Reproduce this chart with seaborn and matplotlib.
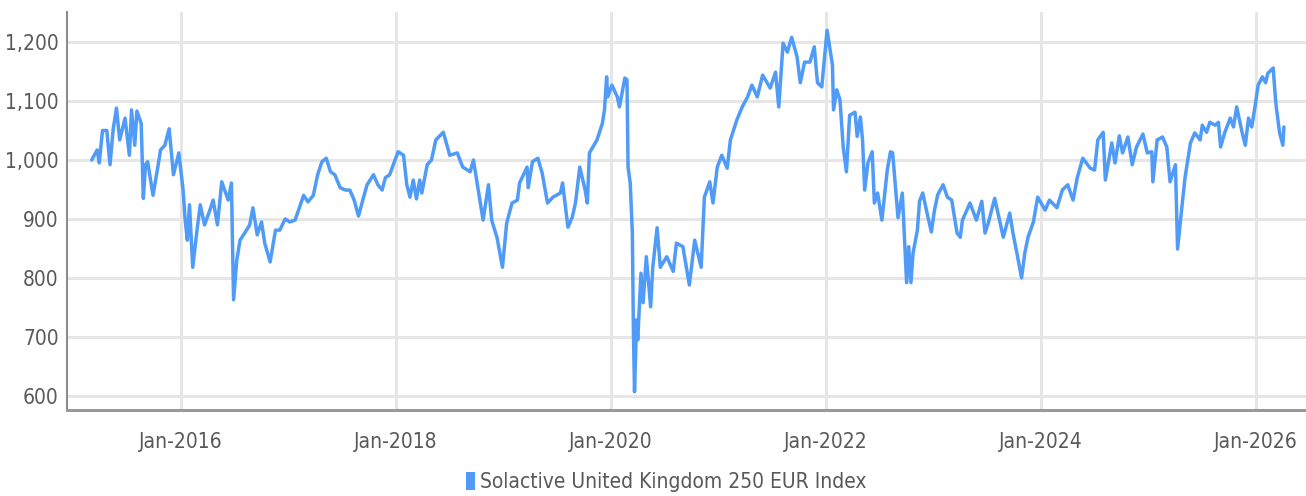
import numpy as np
import pandas as pd
import seaborn as sns
import matplotlib.pyplot as plt
import matplotlib.dates as mdates
from matplotlib.patches import Patch

# decimal years and index levels
years = [2015.17, 2015.22, 2015.24, 2015.27, 2015.31, 2015.34, 2015.37, 2015.40, 2015.43, 2015.48,
         2015.52, 2015.54, 2015.57, 2015.59, 2015.63, 2015.65, 2015.67, 2015.69, 2015.74, 2015.78,
         2015.81, 2015.85, 2015.89, 2015.93, 2015.98, 2016.02, 2016.04, 2016.06, 2016.08, 2016.11,
         2016.15, 2016.18, 2016.22, 2016.27, 2016.30, 2016.34, 2016.38, 2016.44, 2016.47, 2016.48,
         2016.49, 2016.52, 2016.55, 2016.60, 2016.64, 2016.67, 2016.71, 2016.75, 2016.78, 2016.83,
         2016.88, 2016.92, 2016.97, 2017.01, 2017.06, 2017.11, 2017.14, 2017.18, 2017.23, 2017.27,
         2017.31, 2017.35, 2017.39, 2017.43, 2017.48, 2017.53, 2017.57, 2017.61, 2017.65, 2017.69,
         2017.73, 2017.79, 2017.83, 2017.87, 2017.90, 2017.94, 2017.99, 2018.02, 2018.07, 2018.10,
         2018.13, 2018.16, 2018.19, 2018.22, 2018.24, 2018.29, 2018.33, 2018.37, 2018.44, 2018.50,
         2018.57, 2018.62, 2018.69, 2018.72, 2018.78, 2018.81, 2018.86, 2018.89, 2018.94, 2018.99,
         2019.03, 2019.08, 2019.13, 2019.15, 2019.22, 2019.23, 2019.27, 2019.32, 2019.36, 2019.41,
         2019.46, 2019.53, 2019.55, 2019.60, 2019.64, 2019.67, 2019.71, 2019.76, 2019.78, 2019.80,
         2019.87, 2019.92, 2019.94, 2019.96, 2019.97, 2020.01, 2020.06, 2020.08, 2020.13, 2020.15,
         2020.16, 2020.18, 2020.20, 2020.21, 2020.22, 2020.24, 2020.25, 2020.28, 2020.30, 2020.33,
         2020.37, 2020.39, 2020.43, 2020.46, 2020.52, 2020.58, 2020.61, 2020.67, 2020.73, 2020.78,
         2020.84, 2020.87, 2020.92, 2020.95, 2020.99, 2021.03, 2021.08, 2021.11, 2021.17, 2021.22,
         2021.27, 2021.31, 2021.36, 2021.41, 2021.48, 2021.53, 2021.56, 2021.60, 2021.64, 2021.68,
         2021.73, 2021.76, 2021.80, 2021.85, 2021.89, 2021.92, 2021.96, 2022.01, 2022.06, 2022.07,
         2022.10, 2022.13, 2022.16, 2022.19, 2022.22, 2022.27, 2022.29, 2022.32, 2022.34, 2022.36,
         2022.39, 2022.43, 2022.45, 2022.48, 2022.52, 2022.57, 2022.60, 2022.62, 2022.67, 2022.71,
         2022.75, 2022.77, 2022.79, 2022.81, 2022.85, 2022.87, 2022.90, 2022.94, 2022.98, 2023.01,
         2023.04, 2023.09, 2023.13, 2023.17, 2023.22, 2023.25, 2023.27, 2023.34, 2023.40, 2023.45,
         2023.48, 2023.51, 2023.57, 2023.60, 2023.65, 2023.71, 2023.74, 2023.78, 2023.82, 2023.85,
         2023.88, 2023.93, 2023.97, 2024.04, 2024.08, 2024.15, 2024.20, 2024.25, 2024.30, 2024.34,
         2024.39, 2024.46, 2024.50, 2024.53, 2024.58, 2024.60, 2024.66, 2024.69, 2024.73, 2024.76,
         2024.81, 2024.85, 2024.89, 2024.95, 2024.99, 2025.03, 2025.04, 2025.08, 2025.13, 2025.17,
         2025.20, 2025.25, 2025.27, 2025.31, 2025.34, 2025.39, 2025.43, 2025.48, 2025.50, 2025.54,
         2025.57, 2025.62, 2025.65, 2025.67, 2025.71, 2025.76, 2025.79, 2025.82, 2025.87, 2025.90,
         2025.93, 2025.96, 2025.99, 2026.02, 2026.06, 2026.09, 2026.11, 2026.16, 2026.18, 2026.19,
         2026.22, 2026.25, 2026.26]

index_level = [1000, 1017, 995, 1050, 1050, 992, 1053, 1088, 1034, 1071,
               1008, 1085, 1025, 1083, 1062, 935, 992, 997, 940, 983,
               1017, 1025, 1053, 975, 1012, 950, 898, 864, 924, 818,
               881, 924, 890, 915, 932, 890, 963, 932, 961, 864,
               763, 830, 864, 878, 890, 919, 873, 895, 859, 827,
               881, 881, 900, 895, 898, 924, 940, 929, 940, 975,
               997, 1003, 980, 975, 953, 949, 949, 932, 905, 932,
               958, 975, 958, 949, 970, 975, 1000, 1014, 1008, 958,
               937, 966, 934, 966, 944, 992, 1000, 1034, 1047, 1008,
               1012, 988, 980, 1000, 932, 898, 958, 898, 868, 818,
               893, 927, 932, 961, 988, 953, 997, 1003, 978, 927,
               937, 944, 961, 886, 903, 927, 988, 949, 927, 1012,
               1034, 1062, 1085, 1141, 1107, 1127, 1107, 1090, 1139, 1136,
               988, 961, 876, 707, 607, 729, 695, 808, 758, 836,
               751, 818, 885, 818, 836, 811, 859, 853, 788, 864,
               818, 937, 963, 927, 988, 1008, 986, 1034, 1068, 1090,
               1107, 1127, 1107, 1144, 1122, 1149, 1090, 1198, 1183, 1208,
               1175, 1131, 1166, 1166, 1192, 1131, 1124, 1220, 1161, 1085,
               1119, 1102, 1022, 980, 1076, 1081, 1040, 1073, 1034, 949,
               995, 1014, 927, 944, 898, 983, 1014, 1012, 902, 944,
               792, 853, 792, 842, 881, 930, 944, 910, 878, 915,
               941, 958, 937, 932, 876, 869, 898, 927, 898, 930,
               876, 893, 935, 910, 869, 910, 876, 839, 800, 842,
               869, 895, 937, 915, 932, 919, 949, 958, 932, 971,
               1003, 986, 983, 1034, 1047, 966, 1029, 995, 1041, 1012,
               1039, 992, 1022, 1044, 1012, 1014, 963, 1034, 1039, 1022,
               963, 992, 849, 920, 971, 1029, 1046, 1034, 1059, 1047,
               1064, 1059, 1064, 1022, 1047, 1071, 1056, 1090, 1047, 1025,
               1071, 1056, 1090, 1127, 1141, 1131, 1147, 1156, 1107, 1088,
               1046, 1025, 1056]

series_name = "Solactive United Kingdom 250 EUR Index"
y_ticks = [600, 700, 800, 900, 1000, 1100, 1200]


def to_date(y):
    base = pd.Timestamp(int(y), 1, 1)
    return base + pd.Timedelta(days=(y - int(y)) * 365.25)


df = pd.DataFrame({"date": [to_date(y) for y in years], "value": index_level})

sns.set_theme(style="white")
plt.rcParams["font.family"] = ["DejaVu Sans"]
plt.rcParams["font.stretch"] = "condensed"

fig = plt.figure(figsize=(13.06, 4.96), dpi=100)
ax = fig.add_axes([0.0513, 0.1734, 0.9487, 0.8024])

sns.lineplot(data=df, x="date", y="value", color="#4f9bf7", linewidth=2.5, ax=ax, legend=False)

ax.set_xlim(pd.Timestamp("2014-12-10"), pd.Timestamp("2026-06-20"))
ax.set_ylim(576, 1251)
ax.set_yticks(y_ticks)
ax.yaxis.set_major_formatter(plt.FuncFormatter(lambda v, p: f"{v:,.0f}"))
ax.xaxis.set_major_locator(mdates.YearLocator(2))
ax.xaxis.set_major_formatter(mdates.DateFormatter("%b-%Y"))

ax.grid(True, color="#e6e6e6", linewidth=2.2)
ax.set_axisbelow(True)
ax.set_xlabel("")
ax.set_ylabel("")
ax.tick_params(axis="both", length=0, labelsize=15, colors="#595959")
ax.tick_params(axis="x", pad=16)
ax.tick_params(axis="y", pad=6)

for s in ["top", "right"]:
    ax.spines[s].set_visible(False)
ax.spines["left"].set_color("#8c8c8c")
ax.spines["left"].set_linewidth(1.5)
ax.spines["bottom"].set_color("#999999")
ax.spines["bottom"].set_linewidth(2.2)

handle = Patch(facecolor="#4f9bf7", edgecolor="none")
fig.legend([handle], [series_name], loc="center", bbox_to_anchor=(0.51, 0.028),
           frameon=False, fontsize=15, labelcolor="#595959",
           handlelength=0.45, handleheight=0.9, handletextpad=0.25)

fig.savefig("out.png", dpi=100)
